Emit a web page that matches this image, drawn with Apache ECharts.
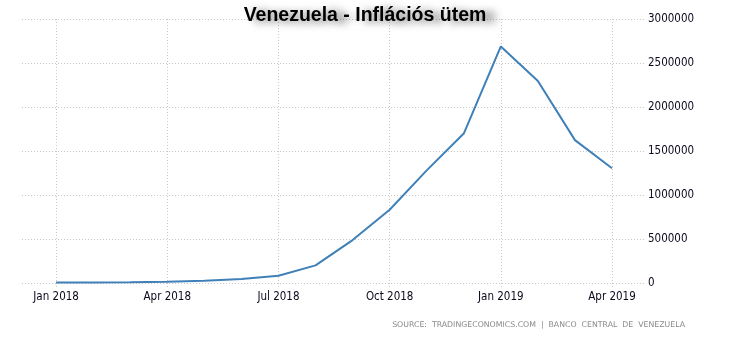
<!DOCTYPE html>
<html>
<head>
<meta charset="utf-8">
<script src="https://cdn.jsdelivr.net/npm/echarts@6/dist/echarts.min.js"></script>
<style>
  html, body { margin: 0; padding: 0; background: #fff; }
  #chart { width: 730px; height: 340px; }
</style>
</head>
<body>
<div id="chart"></div>
<script>
// Monthly periods, Jan 2018 .. Apr 2019
const months = ['Jan 2018', 'Feb 2018', 'Mar 2018', 'Apr 2018', 'May 2018', 'Jun 2018',
                'Jul 2018', 'Aug 2018', 'Sep 2018', 'Oct 2018', 'Nov 2018', 'Dec 2018',
                'Jan 2019', 'Feb 2019', 'Mar 2019', 'Apr 2019'];
// Year-on-year inflation rate (%)
const inflation = [4500, 6000, 8900, 13800, 24600, 46300,
                   82800, 200000, 488000, 833000, 1280000, 1698000,
                   2688670, 2295981, 1623656, 1304494];
// Labelled months on the time axis
const tickLabels = ['Jan 2018', 'Apr 2018', 'Jul 2018', 'Oct 2018', 'Jan 2019', 'Apr 2019'];
const yTicks = [0, 500000, 1000000, 1500000, 2000000, 2500000, 3000000];

const tickIdx = tickLabels.map(l => months.indexOf(l));
const seriesData = inflation.map((v, i) => [i, v]);

const chart = echarts.init(document.getElementById('chart'), null, { renderer: 'canvas' });

const gridLine = { color: '#c8c8c8', type: [1, 2], width: 1 };
const axisFont = {
  fontFamily: '"DejaVu Sans Condensed", "Liberation Sans", sans-serif',
  fontSize: 11.5,
  color: '#0a0a1e'
};

chart.setOption({
  animation: false,
  title: {
    text: 'Venezuela - Inflációs ütem',
    left: 'center',
    top: 1,
    textStyle: {
      fontFamily: 'Liberation Sans',
      fontWeight: 'bold',
      fontSize: 19.5,
      color: '#000',
      textShadowColor: 'rgba(0,0,0,0.6)',
      textShadowBlur: 9,
      textShadowOffsetX: 9,
      textShadowOffsetY: 2
    }
  },
  grid: { left: 22, right: 85, top: 19, bottom: 57 },
  xAxis: {
    type: 'value',
    min: -0.92,
    max: 15.89,
    axisLine: { show: false },
    axisTick: {
      show: true, length: 4, customValues: tickIdx,
      lineStyle: gridLine
    },
    axisLabel: {
      ...axisFont,
      margin: 8,
      customValues: tickIdx,
      formatter: v => months[Math.round(v)]
    },
    splitLine: { show: true, lineStyle: gridLine }
  },
  yAxis: {
    type: 'value',
    position: 'right',
    min: yTicks[0],
    max: yTicks[yTicks.length - 1],
    interval: yTicks[1] - yTicks[0],
    axisLine: { show: false },
    axisTick: { show: false },
    axisLabel: { ...axisFont, margin: 3, formatter: v => String(v) },
    splitLine: { show: true, lineStyle: gridLine }
  },
  series: [{
    type: 'line',
    data: seriesData,
    showSymbol: false,
    symbol: 'none',
    lineStyle: { color: '#4080b8', width: 2 },
    z: 5
  }],
  graphic: [{
    type: 'text',
    right: 45,
    top: 321,
    style: {
      text: 'SOURCE:  TRADINGECONOMICS.COM  |  BANCO  CENTRAL  DE  VENEZUELA',
      fontFamily: 'DejaVu Sans',
      fontSize: 7.8,
      fill: '#8a8a8a'
    }
  }]
});
</script>
</body>
</html>
